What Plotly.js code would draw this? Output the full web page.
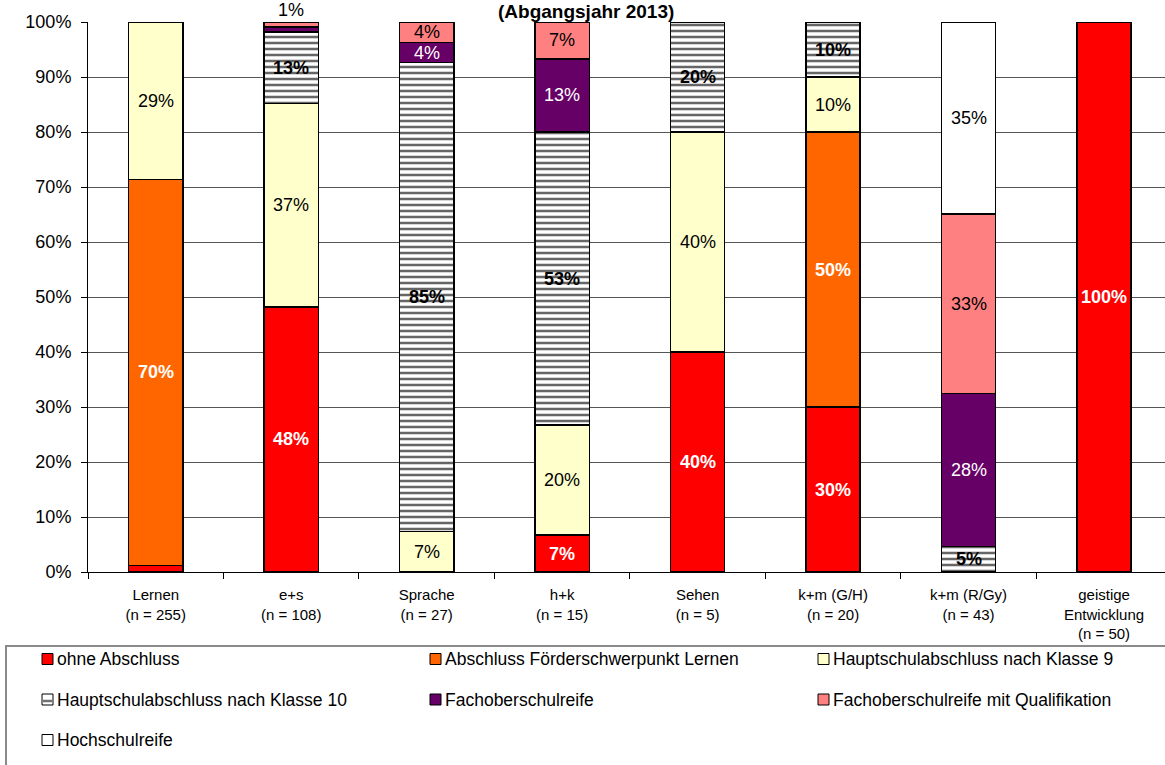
<!DOCTYPE html>
<html>
<head>
<meta charset="utf-8">
<script src="https://cdn.plot.ly/plotly-3.0.1.min.js"></script>
<style>
  html, body { margin: 0; padding: 0; background: #fff; overflow: hidden; }
  #chart { width: 1165px; height: 765px; }
</style>
</head>
<body>
<div id="chart"></div>
<script>
// Förderschwerpunkte (x axis categories) and group sizes
const categories = ['Lernen', 'e+s', 'Sprache', 'h+k', 'Sehen', 'k+m (G/H)', 'k+m (R/Gy)', 'geistige Entwicklung'];
const tickLines = [
  ['Lernen'], ['e+s'], ['Sprache'], ['h+k'], ['Sehen'],
  ['k+m (G/H)'], ['k+m (R/Gy)'], ['geistige', 'Entwicklung']
];
const groupSizes = [255, 108, 27, 15, 5, 20, 43, 50];

// Abschlussarten (stack order bottom to top)
const seriesNames = [
  'ohne Abschluss',
  'Abschluss Förderschwerpunkt Lernen',
  'Hauptschulabschluss nach Klasse 9',
  'Hauptschulabschluss nach Klasse 10',
  'Fachoberschulreife',
  'Fachoberschulreife mit Qualifikation',
  'Hochschulreife'
];

// shares in percent per category
const ohneAbschluss   = [1.2, 48.2, 0,    6.7,  40, 30, 0,    100];
const abschlussLernen = [70.2, 0,   0,    0,    0,  50, 0,    0];
const hauptschule9    = [28.6, 37.0, 7.4, 20.0, 40, 10, 0,    0];
const hauptschule10   = [0,   13.0, 85.2, 53.3, 20, 10, 4.6,  0];
const fachoberschul   = [0,   0.9,  3.7,  13.3, 0,  0,  27.9, 0];
const fachoberschulQ  = [0,   0.9,  3.7,  6.7,  0,  0,  32.6, 0];
const hochschulreife  = [0,   0,    0,    0,    0,  0,  34.9, 0];

const seriesValues = [ohneAbschluss, abschlussLernen, hauptschule9, hauptschule10,
                      fachoberschul, fachoberschulQ, hochschulreife];

const FONT = 'Arial, "Liberation Sans", Helvetica, sans-serif';

// fill and label style for each series
const styles = [
  { color: '#FF0000', label: '#FFFFFF', bold: true },
  { color: '#FF6600', label: '#FFFFFF', bold: true },
  { color: '#FFFFCC', label: '#000000', bold: false },
  { color: '#FFFFFF', label: '#000000', bold: true, hatch: true },
  { color: '#660066', label: '#FFFFFF', bold: false },
  { color: '#FF8080', label: '#000000', bold: false },
  { color: '#FFFFFF', label: '#000000', bold: false }
];

// plot area geometry in pixels
const W = 1165, H = 765;
const M = { l: 88, r: 0, t: 22, b: 193 };
const plotW = W - M.l - M.r, plotH = H - M.t - M.b;
const px2x = p => (p - M.l) / plotW;
const py2y = p => (H - M.b - p) / plotH;

const tickText = tickLines.map((lines, i) => lines.concat(['(n = ' + groupSizes[i] + ')']).join('<br>'));

const traces = seriesNames.map((name, s) => {
  const st = styles[s];
  const marker = { color: st.color, line: { color: '#000000', width: 1.5 } };
  if (st.hatch) {
    marker.pattern = { shape: '-', size: 6, solidity: 0.42, fgcolor: '#666666', bgcolor: '#FFFFFF', fillmode: 'replace' };
  }
  return {
    type: 'bar',
    name: name,
    x: categories,
    y: seriesValues[s],
    width: 0.4,
    marker: marker,
    textposition: 'none',
    hoverinfo: 'skip',
    showlegend: false
  };
});

const annotations = [];

// value labels centred in each segment; a tiny top segment gets its label above the bar
categories.forEach((cat, c) => {
  let base = 0;
  const topIndex = seriesValues.reduce((acc, vals, s) => vals[c] > 0 ? s : acc, -1);
  seriesValues.forEach((vals, s) => {
    const v = vals[c];
    if (v <= 0) return;
    const st = styles[s];
    const txt = Math.round(v) + '%';
    if (v >= 2) {
      annotations.push({
        x: cat, y: base + v / 2, xref: 'x', yref: 'y',
        text: st.bold ? '<b>' + txt + '</b>' : txt,
        showarrow: false, xanchor: 'center', yanchor: 'middle',
        font: { family: FONT, size: 18, color: st.label }
      });
    } else if (s === topIndex) {
      annotations.push({
        x: cat, y: Math.min(base + v, 100), xref: 'x', yref: 'y',
        text: txt, showarrow: false, xanchor: 'center', yanchor: 'bottom',
        font: { family: FONT, size: 18, color: '#000000' }
      });
    }
    base += v;
  });
});

// title
annotations.push({
  x: px2x(586), y: py2y(0), xref: 'paper', yref: 'paper',
  text: '<b>(Abgangsjahr 2013)</b>', showarrow: false,
  xanchor: 'center', yanchor: 'top', borderpad: 0,
  font: { family: FONT, size: 19, color: '#000000' }
});

// legend: three columns, swatch + text
const shapes = [];
shapes.push({
  type: 'rect', xref: 'paper', yref: 'paper',
  x0: px2x(6), x1: px2x(1180), y0: py2y(646), y1: py2y(790),
  line: { color: '#8a8a8a', width: 2 }, fillcolor: 'rgba(0,0,0,0)', layer: 'above'
});
seriesNames.forEach((name, s) => {
  const col = s % 3, row = Math.floor(s / 3);
  const sx = 42 + col * 388;
  const cy = 659 + row * 40.5;
  const st = styles[s];
  shapes.push({
    type: 'rect', xref: 'paper', yref: 'paper',
    x0: px2x(sx), x1: px2x(sx + 11), y0: py2y(cy + 5.5), y1: py2y(cy - 5.5),
    line: { color: '#000000', width: 1 }, fillcolor: st.color, layer: 'above'
  });
  if (st.hatch) {
    shapes.push({
      type: 'line', xref: 'paper', yref: 'paper',
      x0: px2x(sx + 1), x1: px2x(sx + 10), y0: py2y(cy + 1.5), y1: py2y(cy + 1.5),
      line: { color: '#707070', width: 2.5 }, layer: 'above'
    });
  }
  annotations.push({
    x: px2x(sx + 13), y: py2y(cy), xref: 'paper', yref: 'paper',
    text: name, showarrow: false, xanchor: 'left', yanchor: 'middle',
    font: { family: FONT, size: 17.5, color: '#000000' }
  });
});

const layout = {
  width: W, height: H,
  margin: M,
  paper_bgcolor: '#FFFFFF', plot_bgcolor: '#FFFFFF',
  barmode: 'stack',
  showlegend: false,
  font: { family: FONT, color: '#000000' },
  xaxis: {
    type: 'category',
    range: [-0.5, 7.45],
    tickvals: categories, ticktext: tickText,
    tickson: 'boundaries', ticks: 'outside', ticklen: 6, tickcolor: '#000000',
    ticklabelstandoff: 9,
    showline: true, linecolor: '#000000', linewidth: 1,
    showgrid: false,
    tickfont: { family: FONT, size: 15, color: '#000000' }
  },
  yaxis: {
    range: [0, 100], dtick: 10, ticksuffix: '%',
    ticks: 'outside', ticklen: 6, tickcolor: '#000000',
    ticklabelstandoff: 6,
    showline: true, linecolor: '#000000', linewidth: 1,
    showgrid: true, gridcolor: '#555555', gridwidth: 1,
    zeroline: false,
    tickfont: { family: FONT, size: 18, color: '#000000' }
  },
  annotations: annotations,
  shapes: shapes
};

Plotly.newPlot('chart', traces, layout, { displayModeBar: false, staticPlot: true });
</script>
</body>
</html>
